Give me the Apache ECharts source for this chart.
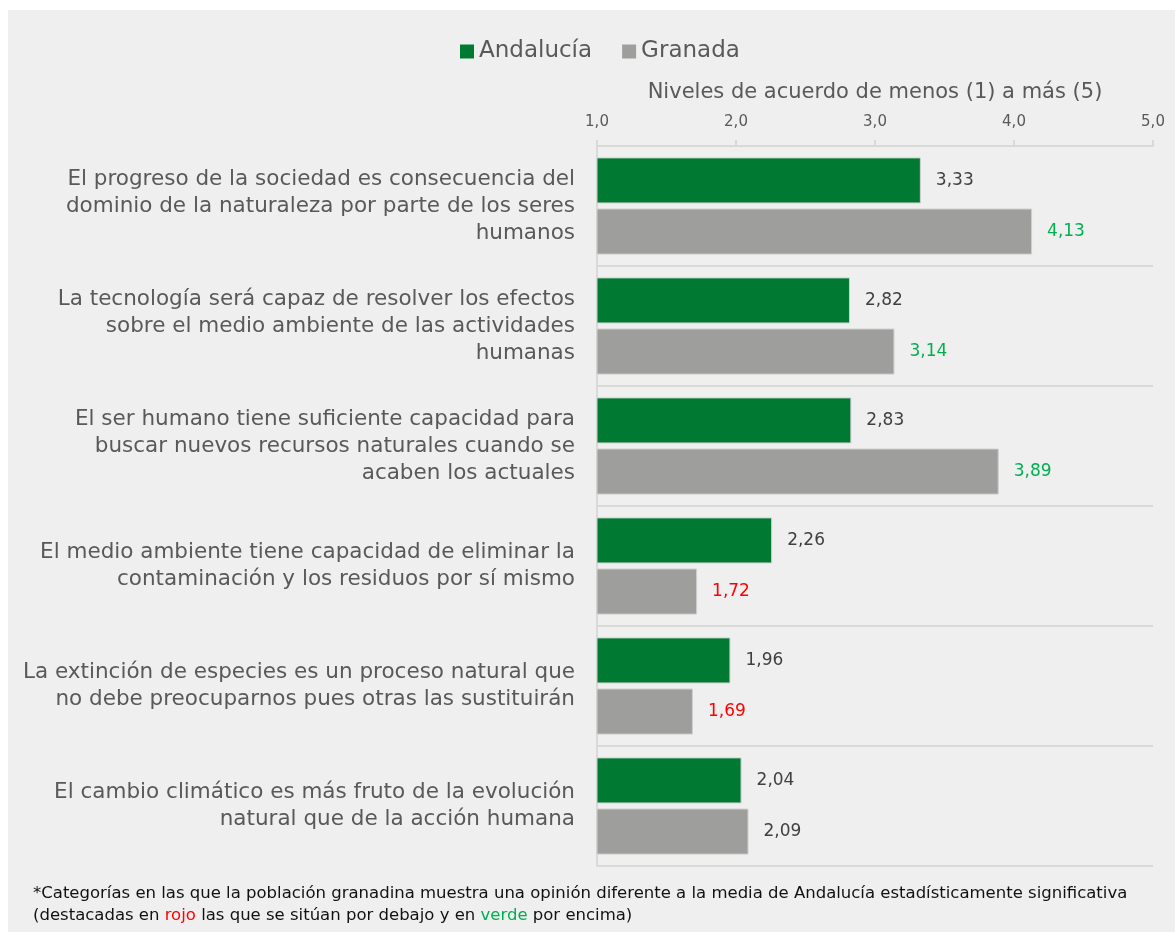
<!DOCTYPE html>
<html><head><meta charset="utf-8">
<script src="https://cdn.jsdelivr.net/npm/echarts@6/dist/echarts.min.js"></script>
<style>html,body{margin:0;padding:0;background:#fff}#c{width:1175px;height:932px}</style>
</head><body><div id="c"></div>
<script>
const categories = [
  "El progreso de la sociedad es consecuencia del\ndominio de la naturaleza por parte de los seres\nhumanos",
  "La tecnología será capaz de resolver los efectos\nsobre el medio ambiente de las actividades\nhumanas",
  "El ser humano tiene suficiente capacidad para\nbuscar nuevos recursos naturales cuando se\nacaben los actuales",
  "El medio ambiente tiene capacidad de eliminar la\ncontaminación y los residuos por sí mismo",
  "La extinción de especies es un proceso natural que\nno debe preocuparnos pues otras las sustituirán",
  "El cambio climático es más fruto de la evolución\nnatural que de la acción humana"
];
const andalucia = [3.33, 2.82, 2.83, 2.26, 1.96, 2.04];
const granada = [4.13, 3.14, 3.89, 1.72, 1.69, 2.09];
// significance: 1 = above (green), -1 = below (red), 0 = not significant
const granadaSig = [1, 1, 1, -1, -1, 0];
const xTicks = [1, 2, 3, 4, 5];

const FONT = '"DejaVu Sans"';
const sigColor = s => s > 0 ? '#00b050' : (s < 0 ? '#ff0000' : '#404040');
const fmt = v => v.toFixed(2).replace('.', ',');

const chart = echarts.init(document.getElementById('c'));
chart.setOption({
  backgroundColor: '#ffffff',
  textStyle: { fontFamily: FONT },
  graphic: [
    { type: 'rect', z: -10, shape: { x: 8, y: 10, width: 1167, height: 922 }, style: { fill: '#efefef' } },
    { type: 'text', left: 33, top: 883, style: {
        text: '*Categorías en las que la población granadina muestra una opinión diferente a la media de Andalucía estadísticamente significativa\n(destacadas en {r|rojo} las que se sitúan por debajo y en {g|verde} por encima)',
        font: '16.5px ' + FONT, fill: '#111111', lineHeight: 22,
        rich: { r: { fill: '#ff0000', font: '16.5px ' + FONT }, g: { fill: '#00b050', font: '16.5px ' + FONT } }
    } }
  ],
  legend: {
    top: 35, left: 455, itemWidth: 14, itemHeight: 14, itemGap: 30,
    icon: 'rect', itemStyle: { borderWidth: 0 },
    textStyle: { fontSize: 23, color: '#595959', fontFamily: FONT },
    data: ['Andalucía', 'Granada']
  },
  grid: { left: 597, right: 22, top: 146, bottom: 66, containLabel: false },
  xAxis: {
    type: 'value', position: 'top', min: xTicks[0], max: xTicks[xTicks.length - 1], interval: 1,
    name: 'Niveles de acuerdo de menos (1) a más (5)', nameLocation: 'middle', nameGap: 43,
    nameTextStyle: { fontSize: 21, color: '#595959', fontFamily: FONT },
    axisLine: { show: true, lineStyle: { color: '#d9d9d9', width: 2 } },
    axisTick: { show: true, length: 6, lineStyle: { color: '#d9d9d9', width: 2 } },
    axisLabel: { fontSize: 15, color: '#595959', margin: 16, formatter: v => v.toFixed(1).replace('.', ',') },
    splitLine: { show: false }
  },
  yAxis: {
    type: 'category', inverse: true, data: categories,
    axisLine: { show: true, lineStyle: { color: '#d9d9d9', width: 2 } },
    axisTick: { show: false },
    splitLine: { show: true, lineStyle: { color: '#d9d9d9', width: 2 } },
    axisLabel: { fontSize: 21.5, color: '#595959', lineHeight: 27, margin: 22, align: 'right', padding: [4, 0, 0, 0] }
  },
  series: [
    {
      name: 'Andalucía', type: 'bar', data: andalucia,
      barCategoryGap: '19%', barGap: '11%',
      itemStyle: { color: '#007a33', borderColor: '#d0d0d0', borderWidth: 1 },
      label: { show: true, position: 'right', distance: 15, fontSize: 17, color: '#404040', formatter: p => fmt(p.value) }
    },
    {
      name: 'Granada', type: 'bar',
      data: granada.map((v, i) => ({ value: v, label: { color: sigColor(granadaSig[i]) } })),
      barCategoryGap: '19%', barGap: '11%',
      itemStyle: { color: '#9e9e9c', borderColor: '#cfcfcf', borderWidth: 1 },
      label: { show: true, position: 'right', distance: 15, fontSize: 17, formatter: p => fmt(p.value) }
    }
  ]
});
</script></body></html>
